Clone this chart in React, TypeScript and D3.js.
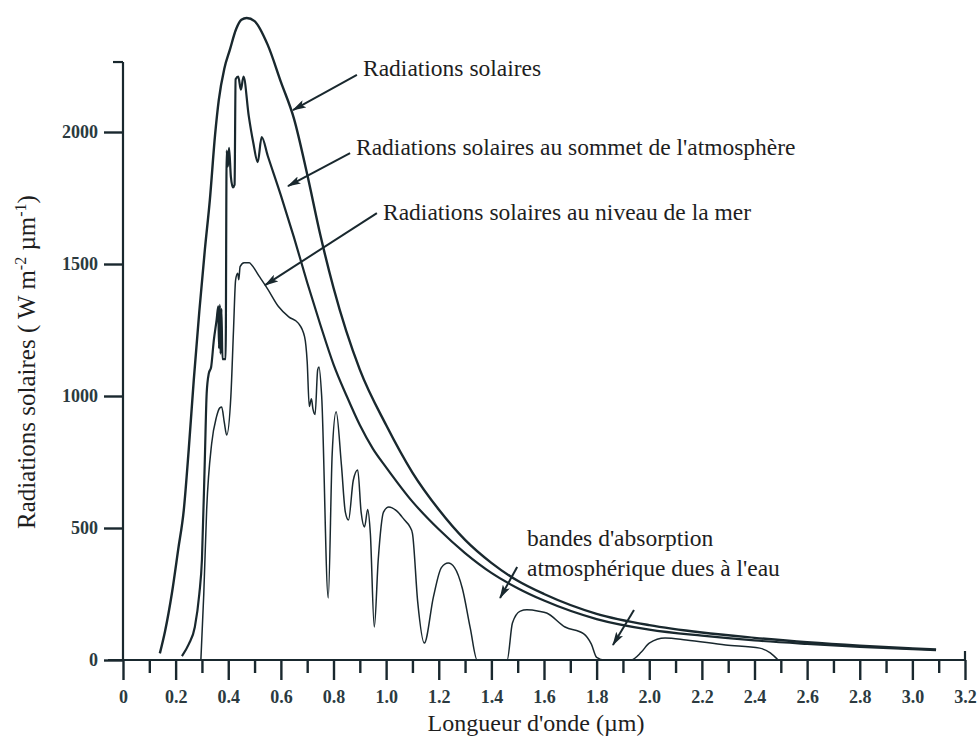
import { useEffect, useRef } from "react"
import * as d3 from "d3"

// Radiations solaires (corps noir) — longueur d'onde (µm) / W m-2 µm-1
const solarWl = [0.14, 0.16, 0.186, 0.21, 0.231, 0.25, 0.269, 0.29, 0.311, 0.33, 0.35, 0.364, 0.385, 0.406, 0.43, 0.45, 0.47, 0.5, 0.55, 0.6, 0.65, 0.7, 0.75, 0.8, 0.9, 1.0, 1.1, 1.2, 1.3, 1.4, 1.5, 1.6, 1.8, 2.0, 2.2, 2.4, 2.6, 2.8, 3.0, 3.09]
const solarVal = [25, 110, 254, 420, 568, 800, 1061, 1320, 1553, 1742, 1990, 2121, 2240, 2311, 2390, 2425, 2432, 2420, 2330, 2190, 2050, 1840, 1610, 1410, 1100, 890, 710, 570, 455, 368, 300, 250, 175, 132, 104, 84, 67, 54, 44, 40]

// Radiations solaires au sommet de l'atmosphère
const toaWl = [0.224, 0.25, 0.273, 0.29, 0.3, 0.311, 0.318, 0.326, 0.335, 0.345, 0.356, 0.362, 0.365, 0.368, 0.371, 0.374, 0.378, 0.39, 0.394, 0.399, 0.403, 0.41, 0.418, 0.424, 0.428, 0.438, 0.448, 0.458, 0.478, 0.495, 0.512, 0.527, 0.55, 0.6, 0.65, 0.7, 0.75, 0.8, 0.85, 0.9, 0.95, 1.0, 1.1, 1.2, 1.3, 1.4, 1.5, 1.6, 1.8, 2.0, 2.2, 2.4, 2.6, 2.8, 3.0, 3.09]
const toaVal = [15, 60, 125, 250, 380, 760, 1010, 1085, 1110, 1210, 1290, 1340, 1180, 1345, 1160, 1330, 1140, 1140, 1930, 1870, 1940, 1830, 1790, 1800, 2200, 2210, 2160, 2210, 2060, 1960, 1886, 1981, 1910, 1760, 1600, 1430, 1270, 1120, 1000, 890, 800, 730, 600, 495, 405, 330, 272, 225, 155, 115, 92, 74, 61, 50, 41, 37]

// Radiations solaires au niveau de la mer
const seaWl = [0.296, 0.307, 0.318, 0.337, 0.355, 0.368, 0.375, 0.385, 0.394, 0.41, 0.42, 0.428, 0.436, 0.44, 0.445, 0.46, 0.48, 0.49, 0.52, 0.55, 0.59, 0.63, 0.667, 0.69, 0.7, 0.708, 0.716, 0.722, 0.73, 0.74, 0.745, 0.755, 0.78, 0.795, 0.81, 0.83, 0.845, 0.857, 0.875, 0.892, 0.905, 0.918, 0.93, 0.94, 0.955, 0.97, 0.99, 1.01, 1.04, 1.07, 1.09, 1.1, 1.12, 1.145, 1.18, 1.21, 1.236, 1.26, 1.29, 1.32, 1.346, 1.46, 1.48, 1.51, 1.535, 1.58, 1.61, 1.68, 1.75, 1.78, 1.8, 1.83, 1.93, 1.97, 2.0, 2.06, 2.14, 2.29, 2.42, 2.46, 2.49]
const seaVal = [0, 250, 570, 820, 920, 955, 958, 900, 852, 1000, 1250, 1440, 1465, 1440, 1490, 1505, 1505, 1495, 1450, 1405, 1340, 1300, 1275, 1225, 1130, 960, 990, 950, 930, 1100, 1110, 1000, 235, 780, 940, 740, 560, 530, 680, 720, 560, 504, 570, 480, 125, 380, 560, 580, 565, 530, 505, 480, 220, 64, 240, 350, 367, 350, 270, 120, 0, 0, 140, 185, 190, 185, 178, 125, 100, 60, 10, 0, 0, 30, 64, 83, 76, 57, 45, 27, 0]

const xMajorTicks = [0, 0.2, 0.4, 0.6, 0.8, 1.0, 1.2, 1.4, 1.6, 1.8, 2.0, 2.2, 2.4, 2.6, 2.8, 3.0, 3.2]
const xMinorTicks = [0.1, 0.3, 0.5, 0.7, 0.9, 1.1, 1.3, 1.5, 1.7, 1.9, 2.1, 2.3, 2.5, 2.7, 2.9, 3.1]
const yTicks = [0, 500, 1000, 1500, 2000]

// annotation arrows, in data units: [tailWl, tailVal, tipWl, tipVal]
const arrows = [
  [0.889, 2216, 0.646, 2083],
  [0.863, 1920, 0.627, 1795],
  [0.965, 1693, 0.54, 1420],
  [1.498, 352, 1.433, 235],
  [1.942, 189, 1.862, 57],
]

type Pt = { wl: number; v: number }
const zipPts = (wl: number[], v: number[]): Pt[] => wl.map((w, i) => ({ wl: w, v: v[i] }))

export default function App() {
  const svgRef = useRef<SVGSVGElement>(null)

  useEffect(() => {
    if (!svgRef.current) return
    const svg = d3.select(svgRef.current)
    svg.selectAll("*").remove()

    const ink = "#19282e"
    const serif = "'Liberation Serif', 'Times New Roman', serif"

    const x = d3.scaleLinear().domain([0, 3.2]).range([123, 965])
    const y = d3.scaleLinear().domain([0, 2000]).range([660, 132])

    const defs = svg.append("defs")
    defs.append("marker")
      .attr("id", "arrowhead")
      .attr("viewBox", "0 0 14 8")
      .attr("refX", 13)
      .attr("refY", 4)
      .attr("markerWidth", 14)
      .attr("markerHeight", 8)
      .attr("markerUnits", "userSpaceOnUse")
      .attr("orient", "auto")
      .append("path")
      .attr("d", "M0,0 L14,4 L0,8 L3,4 z")
      .attr("fill", ink)

    // axes
    const styleAxis = (g: d3.Selection<SVGGElement, unknown, null, undefined>) => {
      g.select(".domain").remove()
      g.selectAll(".tick line").attr("stroke", ink).attr("stroke-width", 2.4)
      g.selectAll(".tick text")
        .attr("fill", "#2b3a40")
        .style("font-family", serif)
        .style("font-weight", "bold")
        .style("font-size", "18px")
    }

    svg.append("g")
      .attr("transform", `translate(0,${y(0)})`)
      .call(d3.axisBottom(x).tickValues(xMinorTicks).tickSize(13).tickSizeOuter(0).tickFormat(() => ""))
      .call(styleAxis)

    svg.append("g")
      .attr("transform", `translate(0,${y(0)})`)
      .call(d3.axisBottom(x).tickValues(xMajorTicks).tickSize(20).tickSizeOuter(0).tickPadding(10)
        .tickFormat((d) => (+d === 0 ? "0" : (+d).toFixed(1))))
      .call(styleAxis)

    svg.append("g")
      .attr("transform", `translate(${x(0)},0)`)
      .call(d3.axisLeft(y).tickValues(yTicks).tickSize(19).tickSizeOuter(0).tickPadding(6)
        .tickFormat((d) => String(d)))
      .call(styleAxis)

    // axis lines
    svg.append("line")
      .attr("x1", x(0) - 15).attr("x2", x(3.2))
      .attr("y1", y(0)).attr("y2", y(0))
      .attr("stroke", ink).attr("stroke-width", 2.2)
    svg.append("line")
      .attr("x1", x(3.2)).attr("x2", x(3.2))
      .attr("y1", y(0)).attr("y2", y(0) - 9)
      .attr("stroke", ink).attr("stroke-width", 2.2)
    svg.append("line")
      .attr("x1", x(0)).attr("x2", x(0))
      .attr("y1", y(2265)).attr("y2", y(0))
      .attr("stroke", ink).attr("stroke-width", 2.2)
    svg.append("line")
      .attr("x1", x(0) - 10).attr("x2", x(0))
      .attr("y1", y(2265)).attr("y2", y(2265))
      .attr("stroke", ink).attr("stroke-width", 2.2)

    // curves
    const line = d3.line<Pt>()
      .x((d) => x(d.wl))
      .y((d) => y(d.v))
      .curve(d3.curveMonotoneX)

    const series = [
      { pts: zipPts(solarWl, solarVal), w: 2.4 },
      { pts: zipPts(toaWl, toaVal), w: 2.2 },
      { pts: zipPts(seaWl, seaVal), w: 1.5 },
    ]
    series.forEach((s) => {
      svg.append("path")
        .datum(s.pts)
        .attr("fill", "none")
        .attr("stroke", ink)
        .attr("stroke-width", s.w)
        .attr("stroke-linejoin", "round")
        .attr("d", line)
    })

    // arrows
    arrows.forEach(([tw, tv, hw, hv]) => {
      svg.append("line")
        .attr("x1", x(tw)).attr("y1", y(tv))
        .attr("x2", x(hw)).attr("y2", y(hv))
        .attr("stroke", ink)
        .attr("stroke-width", 2)
        .attr("marker-end", "url(#arrowhead)")
    })

    // labels
    const label = (tx: number, ty: number, txt: string, size = 23.5) =>
      svg.append("text")
        .attr("x", tx).attr("y", ty)
        .attr("fill", "#1e1e1e")
        .style("font-family", serif)
        .style("font-size", `${size}px`)
        .text(txt)

    label(363, 76, "Radiations solaires")
    label(356, 155, "Radiations solaires au sommet de l'atmosphère")
    label(383, 220, "Radiations solaires au niveau de la mer")
    label(527, 546, "bandes d'absorption")
    label(527, 576, "atmosphérique dues à l'eau")

    label(536, 731, "Longueur d'onde (µm)", 24).attr("text-anchor", "middle")

    const yl = svg.append("text")
      .attr("transform", `translate(35,362) rotate(-90)`)
      .attr("text-anchor", "middle")
      .attr("fill", "#1e1e1e")
      .style("font-family", serif)
      .style("font-size", "25px")
    yl.append("tspan").text("Radiations solaires ( W m")
    yl.append("tspan").attr("dy", -9).style("font-size", "16px").text("-2")
    yl.append("tspan").attr("dy", 9).text(" µm")
    yl.append("tspan").attr("dy", -9).style("font-size", "16px").text("-1")
    yl.append("tspan").attr("dy", 9).text(")")
  }, [])

  return (
    <svg
      ref={svgRef}
      width={980}
      height={745}
      style={{ position: "absolute", left: 0, top: 0, background: "#fff", display: "block" }}
    />
  )
}
